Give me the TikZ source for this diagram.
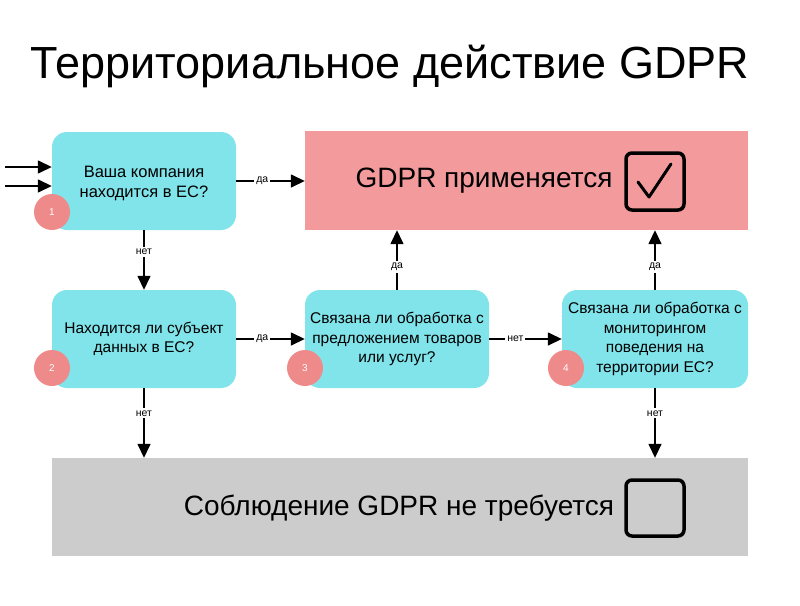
\documentclass[tikz,border=0pt]{standalone}
\usepackage{fontspec}
\setmainfont{Liberation Sans}
\usetikzlibrary{arrows.meta}
\definecolor{qcyan}{HTML}{80E4EA}
\definecolor{yesred}{HTML}{F29A9C}
\definecolor{numred}{HTML}{EF8A8B}
\definecolor{nogray}{HTML}{CCCCCC}
\tikzset{
  qbox/.style={draw=none, fill=qcyan, rounded corners=15pt, minimum width=184pt, minimum height=98pt, align=center, font=\fontsize{15.5}{19.5}\selectfont, inner sep=0pt},
  numdot/.style={circle, fill=numred, minimum size=36pt, inner sep=0pt, text=white, font=\fontsize{10}{12}\selectfont},
  flow/.style={line width=1.5pt, -{Triangle[length=14pt,width=13pt]}},
  lbl/.style={fill=white, inner sep=2pt, font=\fontsize{10.5}{12}\selectfont},
  tick/.style={draw=black, line width=3.5pt, rounded corners=6pt},
}
\begin{document}
\begin{tikzpicture}[x=1pt,y=-1pt]
\useasboundingbox (0,0) rectangle (800,605);
% title
\node (title) at (390,66) {\fontsize{45}{52}\selectfont Территориальное действие GDPR};
% result boxes
\node (yes) [fill=yesred, minimum width=443pt, minimum height=99pt, inner sep=0pt] at (526.5,180.5) {};
\node (yestext) at (484,181) {\fontsize{28}{33}\selectfont GDPR применяется};
\node (no) [fill=nogray, minimum width=696pt, minimum height=98pt, inner sep=0pt] at (400,507) {};
\node (notext) at (399,508) {\fontsize{28}{33}\selectfont Соблюдение GDPR не требуется};
% check boxes
\draw[tick] (626,153) rectangle (684,210);
\draw[line width=3pt, line cap=round, line join=round] (638,182) -- (649,197) -- (671,164);
\draw[tick] (626,480) rectangle (684,536);
% question boxes
\node (q1) [qbox] at (144,181) {};
\node (q1text) [align=center, font=\fontsize{16.5}{20}\selectfont] at (144,183) {Ваша компания\\находится в ЕС?};
\node (q2) [qbox] at (144,339) {Находится ли субъект\\данных в ЕС?};
\node (q3) [qbox] at (397,339) {Связана ли обработка с\\предложением товаров\\или услуг?};
\node (q4) [qbox, minimum width=186pt] at (655,339) {Связана ли обработка с\\мониторингом\\поведения на\\территории ЕС?};
% numbers
\node (n1) [numdot] at (52,212) {1};
\node (n2) [numdot] at (52,368) {2};
\node (n3) [numdot] at (305,368) {3};
\node (n4) [numdot] at (566,368) {4};
% entry arrows
\coordinate (in1) at (5,167);
\coordinate (in2) at (5,186);
\draw[flow] (in1) -- (in1 -| q1.west);
\draw[flow] (in2) -- (in2 -| q1.west);
% connectors
\draw[flow] (q1.east) -- node[lbl, pos=0.38] {да} (q1.east -| yes.west);
\draw[flow] (q1.south) -- node[lbl, pos=0.36] {нет} (q2.north);
\draw[flow] (q2.east) -- node[lbl, pos=0.38] {да} (q3.west);
\draw[flow] (q3.east) -- node[lbl, pos=0.36] {нет} (q4.west);
\draw[flow] (q3.north) -- node[lbl, pos=0.38] {да} (q3.north |- yes.south);
\draw[flow] (q4.north) -- node[lbl, pos=0.38] {да} (q4.north |- yes.south);
\draw[flow] (q2.south) -- node[lbl, pos=0.36] {нет} (q2.south |- no.north);
\draw[flow] (q4.south) -- node[lbl, pos=0.36] {нет} (q4.south |- no.north);
\end{tikzpicture}
\end{document}
